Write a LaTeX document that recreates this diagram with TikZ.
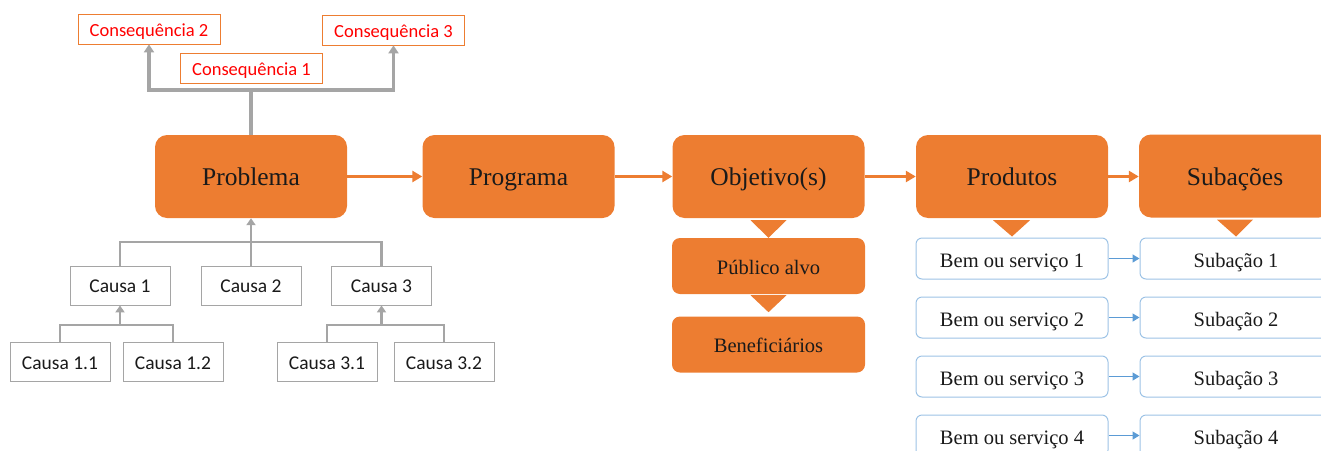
\documentclass[tikz,border=0pt]{standalone}
\usepackage{fontspec}
\setmainfont{Liberation Serif}
\newfontfamily\calib{Carlito}
\usetikzlibrary{arrows.meta,calc}
\definecolor{org}{HTML}{ED7D31}
\definecolor{gry}{HTML}{A5A5A5}
\definecolor{bbord}{HTML}{9DC3E6}
\definecolor{barr}{HTML}{5B9BD5}
\definecolor{txt}{HTML}{1A1A1A}
\begin{document}
\begin{tikzpicture}[x=1pt,y=-1pt,
  big/.style={fill=org,draw=none,rounded corners=12pt,minimum width=192pt,minimum height=83pt,inner sep=0pt,text=txt,font=\fontsize{25.5}{27}\selectfont,text height=21pt,text depth=3pt},
  mid/.style={fill=org,draw=none,rounded corners=8pt,minimum width=193pt,minimum height=56pt,inner sep=0pt,text=txt,font=\fontsize{20.5}{22}\selectfont,text height=18pt,text depth=2pt},
  bem/.style={fill=white,draw=bbord,line width=1pt,rounded corners=6pt,minimum width=192pt,minimum height=41pt,inner sep=0pt,text=txt,font=\fontsize{20.5}{22}\selectfont,text height=19pt,text depth=2pt},
  cons/.style={fill=white,draw=org,line width=0.8pt,minimum width=142pt,minimum height=30pt,inner sep=0pt,text=red,font=\calib\fontsize{18.5}{20}\selectfont,text height=16pt,text depth=2pt},
  cau/.style={fill=white,draw=gry,line width=0.8pt,minimum width=100pt,minimum height=39pt,inner sep=0pt,text=txt,font=\calib\fontsize{19.5}{21}\selectfont,text height=16pt,text depth=2pt},
  oarr/.style={draw=org,line width=3.5pt,-{Triangle[length=10pt,width=11pt]}},
  barrow/.style={draw=barr,line width=1.4pt,-{Triangle[length=7pt,width=8pt]}},
  gthick/.style={draw=gry,line width=3.5pt},
  gthin/.style={draw=gry,line width=2.5pt},
]
\useasboundingbox (0,0) rectangle (1321,450);
% main row
\node[big] (prob) at (251,176.5) {Problema};
\node[big] (prog) at (518.5,176.5) {Programa};
\node[big] (obj) at (768.5,176.5) {Objetivo(s)};
\node[big] (prod) at (1012,176.5) {Produtos};
\node[big] (sub) at (1235,176) {Subações};
\draw[oarr] (prob.east) -- (prog.west);
\draw[oarr] (prog.east) -- (obj.west);
\draw[oarr] (obj.east) -- (prod.west);
\draw[oarr] (prod.east) -- (prod.east -| sub.west);
% objective column
\node[mid] (pub) at (768.5,266) {Público alvo};
\node[mid] (ben) at (768.5,344.5) {Beneficiários};
\fill[org] ($(obj.south)+(-18,2)$) -- ($(obj.south)+(18,2)$) -- (pub.north) -- cycle;
\fill[org] ($(pub.south)+(-18,1)$) -- ($(pub.south)+(18,1)$) -- ($(pub.south)+(0,18)$) -- cycle;
% products
\node[bem] (b1) at (1012,258.5) {Bem ou serviço 1};
\node[bem] (b2) at (1012,317.5) {Bem ou serviço 2};
\node[bem] (b3) at (1012,376.5) {Bem ou serviço 3};
\node[bem] (b4) at (1012,435.5) {Bem ou serviço 4};
\node[bem] (s1) at (1236,258.5) {Subação 1};
\node[bem] (s2) at (1236,317.5) {Subação 2};
\node[bem] (s3) at (1236,376.5) {Subação 3};
\node[bem] (s4) at (1236,435.5) {Subação 4};
\fill[org] ($(prod.south)+(-19,2)$) -- ($(prod.south)+(18,2)$) -- ($(b1.north)+(0,-1)$) -- cycle;
\fill[org] ($(sub.south)+(-18,2)$) -- ($(sub.south)+(18,2)$) -- ($(s1.north)+(0,-1)$) -- cycle;
\draw[barrow] (b1.east) -- (s1.west);
\draw[barrow] (b2.east) -- (s2.west);
\draw[barrow] (b3.east) -- (s3.west);
\draw[barrow] (b4.east) -- (s4.west);
% consequences
\node[cons] (c2) at (149,29) {Consequência 2};
\node[cons] (c1) at (251.5,68) {Consequência 1};
\node[cons] (c3) at (393.5,30) {Consequência 3};
\coordinate (jt) at (prob.north |- 0,90);
\draw[gthick] (prob.north) -- (jt);
\draw[gthick,-{Triangle[length=8pt,width=10pt]}] (jt) -| (c2.south);
\draw[gthick,-{Triangle[length=8pt,width=10pt]}] (jt) -| (c3.south);
% causes
\node[cau] (ca1) at (120,285.5) {Causa 1};
\node[cau] (ca2) at (251,285.5) {Causa 2};
\node[cau] (ca3) at (381.5,285.5) {Causa 3};
\node[cau] (ca11) at (60,362) {Causa 1.1};
\node[cau] (ca12) at (173,362) {Causa 1.2};
\node[cau] (ca31) at (327,362) {Causa 3.1};
\node[cau] (ca32) at (444,362) {Causa 3.2};
\coordinate (jb) at (prob.south |- 0,242);
\draw[gthin,-{Triangle[length=7pt,width=9pt]}] (jb) -- (prob.south);
\draw[gthin] (ca1.north) -- (ca1.north |- jb) -- (ca3.north |- jb) -- (ca3.north);
\draw[gthin] (ca2.north) -- (ca2.north |- jb);
\coordinate (j1) at (ca1.south |- 0,325);
\coordinate (j3) at (ca3.south |- 0,325);
\draw[gthin,-{Triangle[length=7pt,width=9pt]}] (j1) -- (ca1.south);
\draw[gthin] (ca11.north) -- (ca11.north |- j1) -- (ca12.north |- j1) -- (ca12.north);
\draw[gthin,-{Triangle[length=7pt,width=9pt]}] (j3) -- (ca3.south);
\draw[gthin] (ca31.north) -- (ca31.north |- j3) -- (ca32.north |- j3) -- (ca32.north);
\end{tikzpicture}
\end{document}
